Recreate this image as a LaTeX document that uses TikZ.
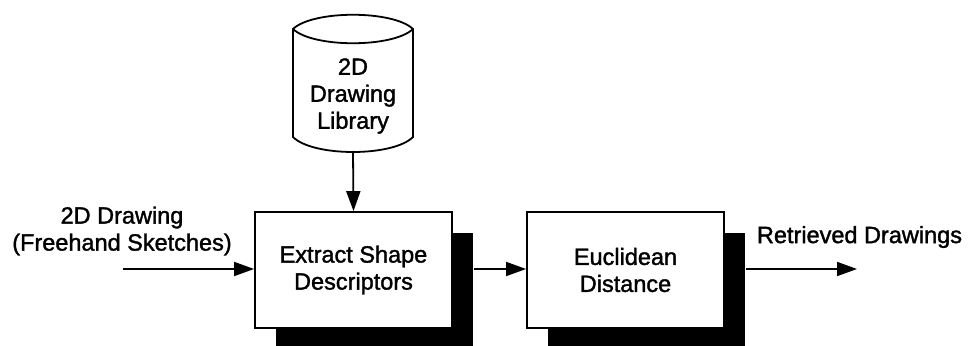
\documentclass[tikz,border=0pt]{standalone}
\usepackage{fontspec}
\newfontfamily\diagfont{Liberation Sans}[FakeBold=1.5]
\usetikzlibrary{arrows.meta,shadows}
\begin{document}
\begin{tikzpicture}[x=1pt,y=-1pt,
  lbl/.style={font=\diagfont\fontsize{23.5}{27}\selectfont, align=center, inner sep=0pt},
  procbox/.style={draw, line width=1.8pt, fill=white, minimum width=197pt, minimum height=116pt,
     inner sep=0pt, align=center, font=\diagfont\fontsize{23.5}{27}\selectfont,
     drop shadow={shadow xshift=21pt, shadow yshift=-21pt, fill=black, opacity=1}},
  conn/.style={line width=1.8pt, -{Triangle[length=20pt,width=14pt]}},
  cyl/.style={draw, line width=1.8pt, fill=white}]
\useasboundingbox (0,0) rectangle (968,345);
\clip (0,0) rectangle (968,345);
% cylinder
\draw[cyl] (293,29) .. controls (313,10) and (393,10) .. (413,29) -- (413,137)
   .. controls (393,157) and (313,157) .. (293,137) -- cycle;
\draw[line width=1.8pt] (293,29) .. controls (313,48) and (393,48) .. (413,29);
\node[lbl] (lib) at (353,96) {2D\\Drawing\\Library};
\coordinate (libbot) at (353,151);
% boxes
\node[procbox] (b1) at (353.5,270) {Extract Shape\\Descriptors};
\node[procbox] (b2) at (625.5,270) {Euclidean\\Distance};
% input
\coordinate (in) at (123,269);
\node[lbl] (inlbl) at (122,231) {2D Drawing\\(Freehand Sketches)};
% output
\coordinate (out) at (857,269);
\node[lbl] (outlbl) at (859.5,237) {Retrieved Drawings};
% connectors
\draw[conn] (libbot) -- (b1.north);
\draw[conn] (in) -- (b1.west |- in);
\draw[conn] ([xshift=21pt]b1.east |- in) -- (b2.west |- in);
\draw[conn] ([xshift=21pt]b2.east |- in) -- (out);
\end{tikzpicture}
\end{document}
